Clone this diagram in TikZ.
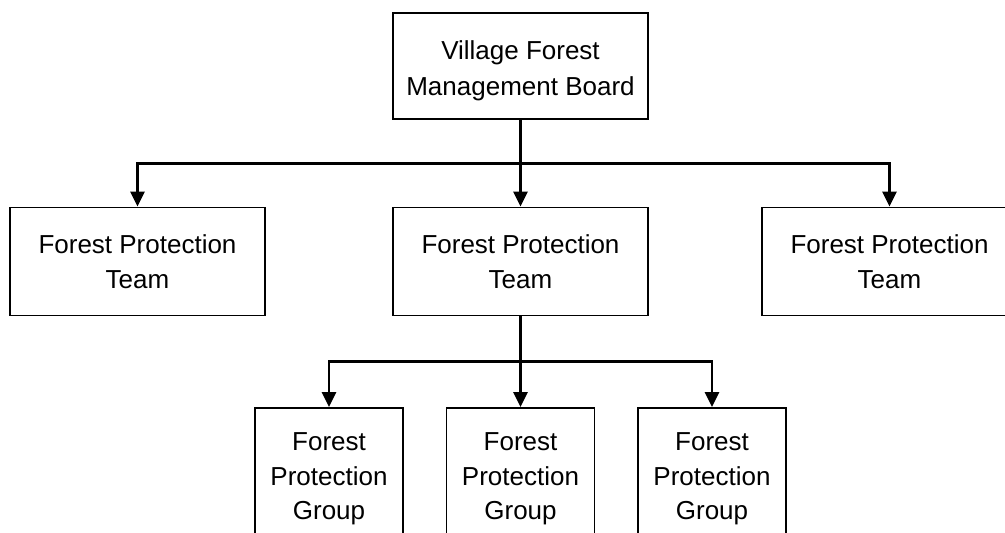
\documentclass[tikz,border=0pt]{standalone}
\usepackage{fontspec}
\setmainfont{Liberation Sans}
\usepackage{tikz}
\usetikzlibrary{positioning,arrows.meta,calc}

\begin{document}
\begin{tikzpicture}[x=1pt,y=1pt,every node/.style={font=\fontsize{26}{34.5}\selectfont},
    unit/.style={draw=black,line width=1.8pt,fill=white,inner sep=0pt,minimum width=255pt,minimum height=108pt,align=center},
    group/.style={unit,minimum width=148pt,minimum height=142pt},
    link/.style={-{Triangle[length=15pt,width=14pt]},line width=2.6pt}]
    \useasboundingbox (0,0) rectangle (1005,-533);
    \clip (0,0) rectangle (1005,-533);
    \node[unit,minimum height=106pt,font=\fontsize{26}{36.5}\selectfont] (board) at (520.5,-66) {\rule{0pt}{28pt}Village Forest\\Management Board};
    \node[unit] (teamL) at (137.5,-261.5) {Forest Protection\\Team};
    \node[unit] (teamM) at (520.5,-261.5) {Forest Protection\\Team};
    \node[unit] (teamR) at (889.5,-261.5) {Forest Protection\\Team};
    \node[group] (groupL) at (329,-479) {Forest\\Protection\\Group};
    \node[group] (groupM) at (520.5,-479) {Forest\\Protection\\Group};
    \node[group] (groupR) at (712,-479) {Forest\\Protection\\Group};
    \coordinate (split1) at ($(board.south)!.5!(teamM.north)$);
    \coordinate (split2) at ($(teamM.south)!.5!(groupM.north)$);
    \draw[link] (board) -- (teamM);
    \draw[link] (split1) -| (teamL);
    \draw[link] (split1) -| (teamR);
    \draw[link] (teamM) -- (groupM);
    \draw[link] (split2) -| (groupL);
    \draw[link] (split2) -| (groupR);
  \end{tikzpicture}
\end{document}
